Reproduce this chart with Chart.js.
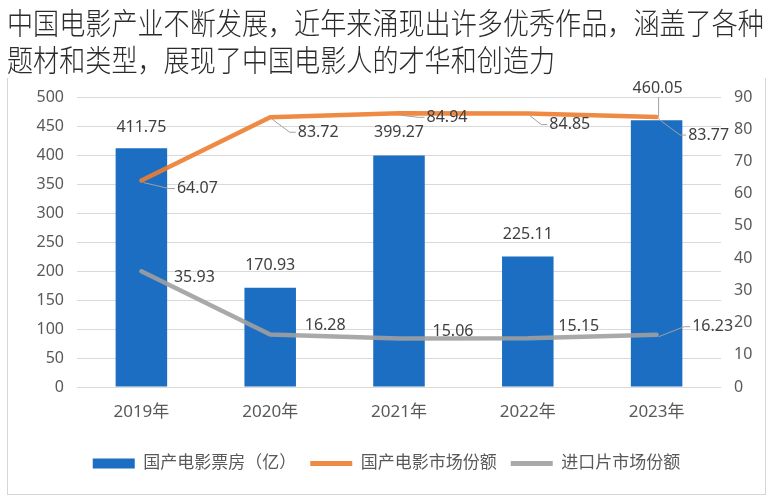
<!DOCTYPE html>
<html>
<head>
<meta charset="utf-8">
<script src="https://cdn.jsdelivr.net/npm/chart.js@4.4.1/dist/chart.umd.min.js"></script>
<style>
  html, body { margin: 0; padding: 0; background: #fff; }
  body { width: 773px; height: 500px; position: relative; overflow: hidden; }
  #frame { position: absolute; left: 7px; top: 78px; width: 757px; height: 416px; border: 1px solid #d6d6d6; border-top: none; }
  #title { position: absolute; left: 7px; top: 3px; font-size: 30px; line-height: 37px; color: #2b2b2b; font-weight: 300; white-space: nowrap;
           transform: scaleX(0.87); transform-origin: 0 0; font-family: 'Noto Sans CJK SC', sans-serif; }
  #wrap { position: absolute; left: 0; top: 0; width: 773px; height: 500px; }
</style>
</head>
<body>
<div id="frame"></div>
<div id="wrap"><canvas id="chart"></canvas></div>
<div id="title">中国电影产业不断发展，近年来涌现出许多优秀作品，涵盖了各种<br>题材和类型，展现了中国电影人的才华和创造力</div>
<script>
// chart data
const years = ['2019年', '2020年', '2021年', '2022年', '2023年'];
const boxOffice = [411.75, 170.93, 399.27, 225.11, 460.05];     // 国产电影票房（亿）
const domesticShare = [64.07, 83.72, 84.94, 84.85, 83.77];      // 国产电影市场份额
const importShare = [35.93, 16.28, 15.06, 15.15, 16.23];        // 进口片市场份额
const seriesNames = ['国产电影票房（亿）', '国产电影市场份额', '进口片市场份额'];

// where each value label sits relative to its mark (dx, dy), and leader style
const labelOffsets = [
    [[0, -21], [0, -22], [0, -23], [0, -22], [1, -32]],
    [[56, 8], [48, 15], [48, 4], [42, 11], [52, 18]],
    [[53, 6], [55, -9], [54, -7], [51, -12], [56, -8]],
];
const leaders = [
    ['', '', '', '', 'down'],
    ['elbow', 'elbow', 'elbow', 'elbow', 'elbow'],
    ['', '', '', '', 'elbow'],
];

const FONT = "'Noto Sans', 'Noto Sans CJK SC', sans-serif";
Chart.defaults.font.family = FONT;
Chart.defaults.color = '#595959';

// draws the value labels (and the little leader lines Excel adds)
const valueLabels = {
    id: 'valueLabels',
    afterDatasetsDraw(chart) {
        const ctx = chart.ctx;
        ctx.save();
        ctx.font = '16px ' + FONT;
        ctx.textAlign = 'center';
        ctx.textBaseline = 'middle';
        chart.data.datasets.forEach((ds, di) => {
            const meta = chart.getDatasetMeta(di);
            meta.data.forEach((el, i) => {
                const x = el.x + labelOffsets[di][i][0];
                const y = el.y + labelOffsets[di][i][1];
                const text = ds.data[i].toFixed(2);
                const w = ctx.measureText(text).width;
                ctx.strokeStyle = '#a0a0a0';
                ctx.lineWidth = 1;
                if (leaders[di][i] === 'elbow') {
                    const left = x - w / 2;
                    ctx.beginPath();
                    ctx.moveTo(el.x + 2, el.y + 2);
                    ctx.lineTo(left - 8, y);
                    ctx.lineTo(left - 2, y);
                    ctx.stroke();
                } else if (leaders[di][i] === 'down') {
                    const target = chart.getDatasetMeta(1).data[i];
                    ctx.beginPath();
                    ctx.moveTo(el.x + 2, y + 9);
                    ctx.lineTo(el.x + 2, target.y - 1);
                    ctx.stroke();
                }
                ctx.fillStyle = '#404040';
                ctx.fillText(text, x, y);
            });
        });
        ctx.restore();
    }
};

new Chart(document.getElementById('chart'), {
    type: 'bar',
    data: {
        labels: years,
        datasets: [
            {
                type: 'bar',
                label: seriesNames[0],
                data: boxOffice,
                backgroundColor: '#1b6ec2',
                yAxisID: 'y',
                barPercentage: 0.4,
                categoryPercentage: 1,
                pointStyle: 'rect',
                order: 2,
            },
            {
                type: 'line',
                label: seriesNames[1],
                data: domesticShare,
                borderColor: 'rgba(237,125,49,0.9)',
                backgroundColor: 'rgba(237,125,49,0.9)',
                borderWidth: 4.5,
                borderCapStyle: 'round',
                borderJoinStyle: 'round',
                pointRadius: 0,
                pointBorderWidth: 5,
                pointStyle: 'line',
                yAxisID: 'y1',
                order: 1,
            },
            {
                type: 'line',
                label: seriesNames[2],
                data: importShare,
                borderColor: 'rgba(160,160,160,0.9)',
                backgroundColor: 'rgba(160,160,160,0.9)',
                borderWidth: 4.5,
                borderCapStyle: 'round',
                borderJoinStyle: 'round',
                pointRadius: 0,
                pointBorderWidth: 5,
                pointStyle: 'line',
                yAxisID: 'y1',
                order: 0,
            },
        ],
    },
    options: {
        responsive: true,
        maintainAspectRatio: false,
        animation: false,
        layout: { padding: { left: 0, right: 0, top: 97, bottom: 18 } },
        scales: {
            x: {
                offset: true,
                grid: { display: false, drawTicks: false },
                border: { display: false },
                ticks: { color: '#595959', font: { size: 17 }, padding: 15, maxRotation: 0 },
                afterFit(scale) { scale.height = 54; },
            },
            y: {
                position: 'left',
                min: 0,
                max: 500,
                ticks: { stepSize: 50, color: '#595959', font: { size: 16 }, padding: 13 },
                grid: { color: '#d9d9d9', lineWidth: 1, drawTicks: false },
                border: { display: false },
                afterFit(scale) { scale.width = 77; },
            },
            y1: {
                position: 'right',
                min: 0,
                max: 90,
                ticks: { stepSize: 10, color: '#595959', font: { size: 16 }, padding: 13 },
                grid: { display: false, drawTicks: false },
                border: { display: false },
                afterFit(scale) { scale.width = 52; },
            },
        },
        plugins: {
            legend: {
                position: 'bottom',
                labels: {
                    usePointStyle: true,
                    pointStyleWidth: 42,
                    boxHeight: 10,
                    padding: 14,
                    color: '#595959',
                    font: { size: 17 },
                    sort: (a, b) => a.datasetIndex - b.datasetIndex,
                },
            },
            tooltip: { enabled: false },
        },
    },
    plugins: [valueLabels],
});
</script>
</body>
</html>
